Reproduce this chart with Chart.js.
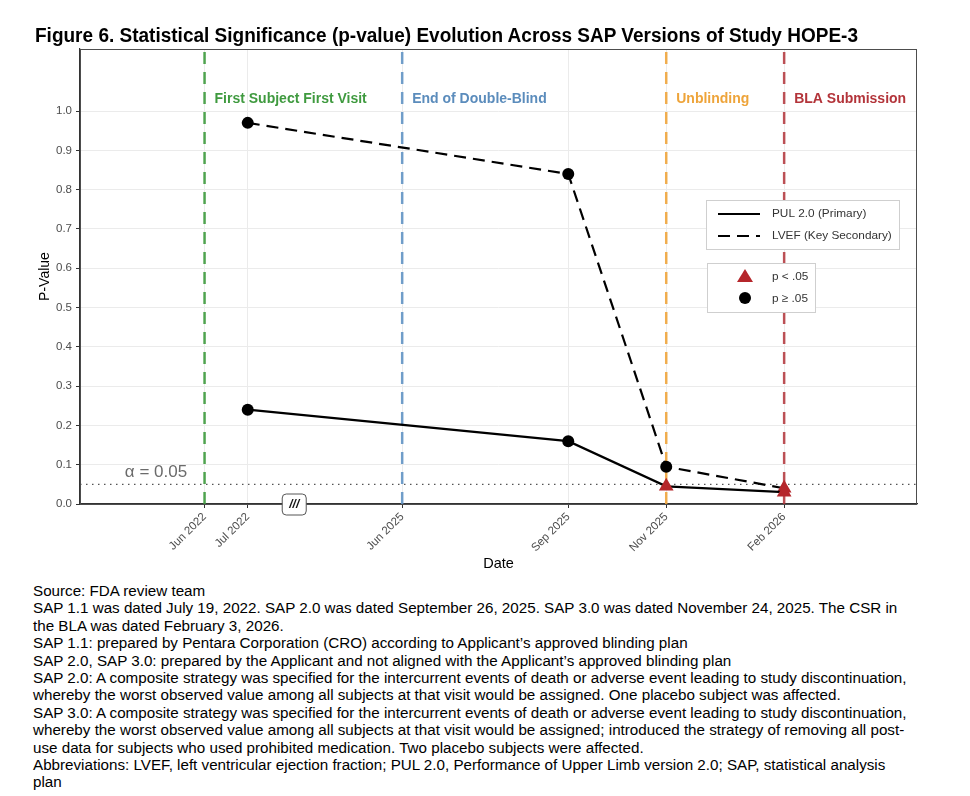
<!DOCTYPE html>
<html>
<head>
<meta charset="utf-8">
<script src="https://cdn.jsdelivr.net/npm/chart.js@4.4.1/dist/chart.umd.min.js"></script>
<style>
  body { margin: 0; background: #fff; width: 970px; height: 796px; position: relative; overflow: hidden;
         font-family: "Liberation Sans", Arial, sans-serif; }
  #title { position: absolute; left: 35px; top: 25px; font-weight: bold; font-size: 20px; line-height: 20px;
           white-space: nowrap; transform-origin: 0 0; color: #000; }
  #wrap { position: absolute; left: 0; top: 0; width: 970px; height: 580px; }
  #notes { position: absolute; left: 33px; top: 582px; font-size: 15.2px; line-height: 17.4px; color: #000; }
  #notes div { white-space: nowrap; }
</style>
</head>
<body>
<div id="wrap"><canvas id="pvalChart" width="970" height="580"></canvas></div>
<div id="title">Figure 6. Statistical Significance (p-value) Evolution Across SAP Versions of Study HOPE-3</div>
<div id="notes">
  <div>Source: FDA review team</div>
  <div>SAP 1.1 was dated July 19, 2022. SAP 2.0 was dated September 26, 2025. SAP 3.0 was dated November 24, 2025. The CSR in</div>
  <div>the BLA was dated February 3, 2026.</div>
  <div>SAP 1.1: prepared by Pentara Corporation (CRO) according to Applicant’s approved blinding plan</div>
  <div>SAP 2.0, SAP 3.0: prepared by the Applicant and not aligned with the Applicant’s approved blinding plan</div>
  <div>SAP 2.0: A composite strategy was specified for the intercurrent events of death or adverse event leading to study discontinuation,</div>
  <div>whereby the worst observed value among all subjects at that visit would be assigned. One placebo subject was affected.</div>
  <div>SAP 3.0: A composite strategy was specified for the intercurrent events of death or adverse event leading to study discontinuation,</div>
  <div>whereby the worst observed value among all subjects at that visit would be assigned; introduced the strategy of removing all post-</div>
  <div>use data for subjects who used prohibited medication. Two placebo subjects were affected.</div>
  <div>Abbreviations: LVEF, left ventricular ejection fraction; PUL 2.0, Performance of Upper Limb version 2.0; SAP, statistical analysis</div>
  <div>plan</div>
</div>
<script>
// ── Data ──────────────────────────────────────────────────────────────────────
// x positions are days on a compressed time axis (gap between Jul 2022 and Jun 2025 cut out)
const tickLabels = ["Jun 2022", "Jul 2022", "Jun 2025", "Sep 2025", "Nov 2025", "Feb 2026"];
const tickPos    = [0, 26, 119, 219, 278, 349];

const sapPos = [26, 219, 278, 349];             // Jul 2022, Sep 2025, Nov 2025, Feb 2026
const pulP   = [0.24, 0.16, 0.045, 0.03];       // PUL 2.0 (Primary)
const lvefP  = [0.97, 0.84, 0.095, 0.04];       // LVEF (Key Secondary)

const eventNames  = ["First Subject First Visit", "End of Double-Blind", "Unblinding", "BLA Submission"];
const eventPos    = [0, 119, 278, 349];
const eventColors = ["rgba(62,155,62,0.9)", "rgba(98,148,196,0.9)", "rgba(240,165,60,0.9)", "rgba(178,50,56,0.85)"];
const eventText   = ["#3f9a3f", "#5b8cbc", "#eea43a", "#b3343a"];

const yTicks = [0, 0.1, 0.2, 0.3, 0.4, 0.5, 0.6, 0.7, 0.8, 0.9, 1.0];
const alpha  = 0.05;
const breakPos = 54;
const xMin = -75, xMax = 429, yMax = 1.158;

const FONT = '"Liberation Sans", Arial, sans-serif';
const RED = "#b5262b";

// ── Helpers ───────────────────────────────────────────────────────────────────
const toPts = (vals) => vals.map((v, i) => ({ x: sapPos[i], y: v }));
const isSig = (c) => c.raw && c.raw.y < alpha;

const seriesStyle = (dash) => ({
    borderColor: "#000",
    borderWidth: 2.2,
    borderDash: dash,
    pointStyle: c => isSig(c) ? "triangle" : "circle",
    pointRadius: c => isSig(c) ? 8.5 : 6,
    pointBackgroundColor: c => isSig(c) ? RED : "#000",
    pointBorderColor: c => isSig(c) ? RED : "#000",
    pointBorderWidth: 0,
    tension: 0
});

const datasets = [
    { label: "PUL 2.0 (Primary)", data: toPts(pulP), ...seriesStyle([]) },
    { label: "LVEF (Key Secondary)", data: toPts(lvefP), ...seriesStyle([12, 7]) },
    ...eventPos.map((p, i) => ({
        label: eventNames[i],
        data: [{ x: p, y: 0 }, { x: p, y: yMax }],
        borderColor: eventColors[i], borderWidth: 2.5, borderDash: [12, 8], pointRadius: 0
    })),
    {
        label: "alpha",
        data: [{ x: xMin, y: alpha }, { x: xMax, y: alpha }],
        borderColor: "#555", borderWidth: 1.3, borderDash: [1.5, 4.5], pointRadius: 0
    }
];

// ── Annotations, border, break mark, legends ──────────────────────────────────
const decor = {
    id: "decor",
    afterDraw(chart) {
        const { ctx, chartArea: a, scales: { x, y } } = chart;
        ctx.save();

        // panel border
        ctx.strokeStyle = "#4d4d4d"; ctx.lineWidth = 1;
        ctx.strokeRect(a.left + 0.5, a.top + 0.5, a.right - a.left - 1, a.bottom - a.top);

        // event labels
        ctx.font = "bold 14px " + FONT; ctx.textBaseline = "middle"; ctx.textAlign = "left";
        eventNames.forEach((n, i) => {
            ctx.fillStyle = eventText[i];
            ctx.fillText(n, x.getPixelForValue(eventPos[i]) + 10, y.getPixelForValue(1.031));
        });

        // alpha label
        ctx.font = "17px " + FONT; ctx.fillStyle = "#6b6b6b";
        ctx.fillText("α = 0.05", x.getPixelForValue(-48), y.getPixelForValue(alpha) - 12);

        // axis break mark
        const bx = x.getPixelForValue(breakPos), by = a.bottom;
        ctx.beginPath(); ctx.roundRect(bx - 12, by - 10, 24, 21, 4);
        ctx.fillStyle = "#fff"; ctx.fill();
        ctx.strokeStyle = "#555"; ctx.lineWidth = 1; ctx.stroke();
        ctx.fillStyle = "#111"; ctx.font = "italic bold 12px " + FONT; ctx.textAlign = "center";
        ctx.fillText("///", bx, by + 1);

        // legend 1: line types
        ctx.textAlign = "left"; ctx.font = "11.8px " + FONT;
        const l1x = a.right - 211, l1y = a.top + 151;
        ctx.fillStyle = "#fff"; ctx.fillRect(l1x, l1y, 193, 49);
        ctx.strokeStyle = "#cfcfcf"; ctx.strokeRect(l1x + 0.5, l1y + 0.5, 193, 49);
        ctx.strokeStyle = "#000"; ctx.lineWidth = 2.2;
        ctx.beginPath(); ctx.setLineDash([]); ctx.moveTo(l1x + 12, l1y + 14); ctx.lineTo(l1x + 54, l1y + 14); ctx.stroke();
        ctx.beginPath(); ctx.setLineDash([12, 7]); ctx.moveTo(l1x + 12, l1y + 36); ctx.lineTo(l1x + 54, l1y + 36); ctx.stroke();
        ctx.setLineDash([]);
        ctx.fillStyle = "#333";
        ctx.fillText("PUL 2.0 (Primary)", l1x + 66, l1y + 14);
        ctx.fillText("LVEF (Key Secondary)", l1x + 66, l1y + 36);

        // legend 2: significance markers
        const l2x = a.right - 210, l2y = a.top + 214;
        ctx.fillStyle = "#fff"; ctx.fillRect(l2x, l2y, 108, 49);
        ctx.strokeStyle = "#cfcfcf"; ctx.lineWidth = 1; ctx.strokeRect(l2x + 0.5, l2y + 0.5, 108, 49);
        ctx.fillStyle = RED;
        ctx.beginPath();
        ctx.moveTo(l2x + 38, l2y + 6); ctx.lineTo(l2x + 46, l2y + 19); ctx.lineTo(l2x + 30, l2y + 19);
        ctx.closePath(); ctx.fill();
        ctx.fillStyle = "#000";
        ctx.beginPath(); ctx.arc(l2x + 38, l2y + 35, 6, 0, Math.PI * 2); ctx.fill();
        ctx.fillStyle = "#333";
        ctx.fillText("p < .05", l2x + 65, l2y + 14);
        ctx.fillText("p ≥ .05", l2x + 65, l2y + 36);

        ctx.restore();
    }
};

// ── Chart ─────────────────────────────────────────────────────────────────────
Chart.defaults.font.family = FONT;

new Chart(document.getElementById("pvalChart"), {
    type: "line",
    data: { datasets },
    options: {
        responsive: false,
        animation: false,
        layout: { padding: { top: 49, right: 53, left: 0, bottom: 0 } },
        plugins: { legend: { display: false }, tooltip: { enabled: false } },
        scales: {
            x: {
                type: "linear", min: xMin, max: xMax,
                afterBuildTicks: s => { s.ticks = tickPos.map(v => ({ value: v })); },
                afterFit: s => { s.height = 76; },
                ticks: {
                    autoSkip: false, minRotation: 45, maxRotation: 45, padding: 2,
                    color: "#4d4d4d", font: { size: 11.5 },
                    callback: (v, i) => tickLabels[i]
                },
                grid: { color: "#ebebeb", tickColor: "#333", tickLength: 4 },
                border: { color: "#333", width: 1.2 },
                title: { display: true, text: "Date", color: "#000", font: { size: 14.5 }, padding: { top: 0, bottom: 7 } }
            },
            y: {
                min: 0, max: yMax,
                afterBuildTicks: s => { s.ticks = yTicks.map(v => ({ value: v })); },
                afterFit: s => { s.width = 80; },
                ticks: { color: "#4d4d4d", font: { size: 11.5 }, padding: 4, callback: v => v.toFixed(1) },
                grid: { color: "#ebebeb", tickColor: "#333", tickLength: 4 },
                border: { color: "#333", width: 1.2 },
                title: { display: true, text: "P-Value", color: "#000", font: { size: 14 }, padding: { top: 37, bottom: 0 } }
            }
        }
    },
    plugins: [decor]
});

// squeeze the title to the reference width (narrow bold face in the original)
const t = document.getElementById("title");
t.style.transform = "scaleX(" + (823 / t.getBoundingClientRect().width) + ")";
</script>
</body>
</html>
